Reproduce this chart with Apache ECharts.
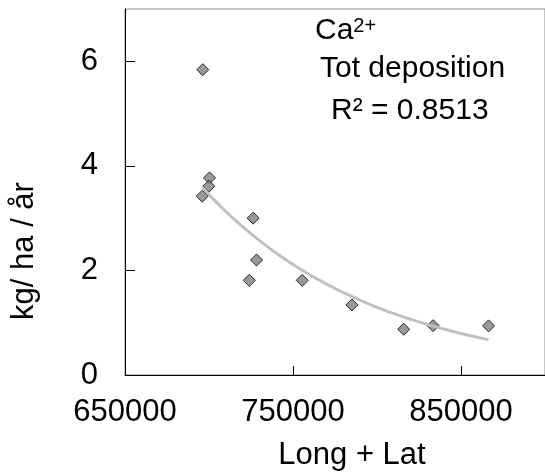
<!DOCTYPE html>
<html>
<head>
<meta charset="utf-8">
<script src="https://cdn.jsdelivr.net/npm/echarts@6/dist/echarts.min.js"></script>
<style>
  html, body { margin: 0; padding: 0; background: #fff; }
  #chart { width: 545px; height: 473px; }
</style>
</head>
<body>
<div id="chart"></div>
<script>
// Ca2+ total deposition against Long + Lat
const longLat = [696300, 700300, 699900, 696000, 726300, 728300, 724000, 755500, 785100, 815900, 833400, 866400];
const deposition = [5.84, 3.77, 3.61, 3.42, 3.00, 2.20, 1.81, 1.81, 1.34, 0.875, 0.944, 0.939];

const xTicks = [650000, 750000, 850000];
const yTicks = [0, 2, 4, 6];

const ionName = 'Ca';
const ionCharge = '2+';
const subtitle = 'Tot deposition';
const rSquaredText = 'R\u00b2 = 0.8513';
const xName = 'Long + Lat';
const yName = 'kg/ ha / år';

const FONT = '"Liberation Sans", Arial, sans-serif';

// Exponential trend line y = a * e^(b x), least squares on ln(y)
function expTrend(xs, ys, steps) {
  const n = xs.length;
  const ly = ys.map(Math.log);
  const mx = xs.reduce((s, v) => s + v, 0) / n;
  const my = ly.reduce((s, v) => s + v, 0) / n;
  let sxy = 0, sxx = 0;
  for (let i = 0; i < n; i++) {
    sxy += (xs[i] - mx) * (ly[i] - my);
    sxx += (xs[i] - mx) * (xs[i] - mx);
  }
  const b = sxy / sxx;
  const lnA = my - b * mx;
  const lo = Math.min(...xs), hi = Math.max(...xs);
  const pts = [];
  for (let k = 0; k <= steps; k++) {
    const x = lo + (hi - lo) * k / steps;
    pts.push([x, Math.exp(lnA + b * x)]);
  }
  return pts;
}

const points = longLat.map((x, i) => [x, deposition[i]]);
const trend = expTrend(longLat, deposition, 80);

const chart = echarts.init(document.getElementById('chart'), null, { renderer: 'canvas' });
chart.setOption({
  animation: false,
  backgroundColor: '#ffffff',
  textStyle: { fontFamily: FONT },
  grid: {
    left: 125, top: 9, width: 422, height: 366,
    show: true, borderColor: '#8c8c8c', borderWidth: 1, backgroundColor: 'transparent'
  },
  title: [
    {
      text: '{n|' + ionName + '}{c|' + ionCharge + '}',
      left: 315, top: 16, padding: 0,
      textStyle: {
        fontWeight: 'normal',
        rich: {
          n: { fontFamily: FONT, fontSize: 30, fontWeight: 'normal', color: '#000', lineHeight: 30 },
          c: { fontFamily: FONT, fontSize: 20, fontWeight: 'normal', color: '#000', lineHeight: 30, padding: [0, 0, 10, 0] }
        }
      }
    },
    {
      text: subtitle, left: 320, top: 54, padding: 0,
      textStyle: { fontFamily: FONT, fontSize: 30, fontWeight: 'normal', color: '#000', lineHeight: 30 }
    },
    {
      text: rSquaredText, left: 331, top: 96, padding: 0,
      textStyle: { fontFamily: FONT, fontSize: 30, fontWeight: 'normal', color: '#000', lineHeight: 30 }
    }
  ],
  xAxis: {
    type: 'value', min: 650000, max: 900000,
    axisLine: { show: true, onZero: false, lineStyle: { color: '#000', width: 1 } },
    axisTick: { show: true, inside: true, length: 9, customValues: xTicks, lineStyle: { color: '#000' } },
    axisLabel: {
      customValues: xTicks, margin: 22, fontSize: 31, color: '#000', fontFamily: FONT,
      formatter: v => String(v)
    },
    splitLine: { show: false }
  },
  yAxis: {
    type: 'value', min: 0, max: 7,
    axisLine: { show: true, onZero: false, lineStyle: { color: '#000', width: 1 } },
    axisTick: { show: true, inside: true, length: 10, customValues: yTicks, lineStyle: { color: '#000' } },
    axisLabel: {
      customValues: yTicks, margin: 27, fontSize: 31, color: '#000', fontFamily: FONT,
      formatter: v => String(v)
    },
    splitLine: { show: false }
  },
  graphic: [
    {
      type: 'text', x: 24, y: 251, rotation: Math.PI / 2,
      style: { text: yName, fontSize: 31, fontFamily: FONT, fill: '#000', align: 'center', verticalAlign: 'middle' }
    },
    {
      type: 'text', x: 352, y: 455,
      style: { text: xName, fontSize: 31, fontFamily: FONT, fill: '#000', align: 'center', verticalAlign: 'middle' }
    }
  ],
  series: [
    {
      type: 'scatter', data: points, symbol: 'diamond', symbolSize: 12, z: 2,
      itemStyle: { color: '#808080', borderColor: '#000', borderWidth: 1 }
    },
    {
      type: 'line', data: trend, showSymbol: false, symbol: 'none', z: 3,
      lineStyle: { color: '#c0c0c0', width: 3 }
    }
  ]
});
</script>
</body>
</html>
